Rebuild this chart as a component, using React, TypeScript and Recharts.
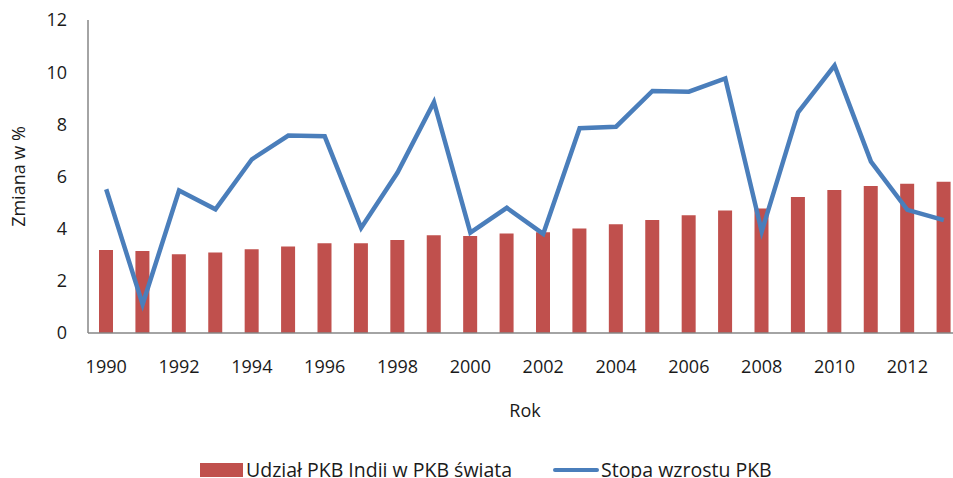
import { Bar, ComposedChart, Legend, Line, XAxis, YAxis } from "recharts";

const years = [
  "1990", "1991", "1992", "1993", "1994", "1995", "1996", "1997", "1998", "1999", "2000", "2001",
  "2002", "2003", "2004", "2005", "2006", "2007", "2008", "2009", "2010", "2011", "2012", "2013",
];

const shareOfWorld = [
  3.18, 3.14, 3.02, 3.09, 3.21, 3.32, 3.44, 3.44, 3.57, 3.75, 3.72, 3.81,
  3.86, 4.01, 4.17, 4.33, 4.51, 4.7, 4.77, 5.21, 5.48, 5.64, 5.72, 5.8,
];

const growthRate = [
  5.51, 1.1, 5.46, 4.74, 6.66, 7.57, 7.54, 4.03, 6.15, 8.85, 3.85, 4.8,
  3.8, 7.85, 7.91, 9.28, 9.25, 9.76, 3.89, 8.46, 10.25, 6.57, 4.72, 4.33,
];

const yTicks = [0, 2, 4, 6, 8, 10, 12];

const data = years.map((year, i) => ({
  year,
  share: shareOfWorld[i],
  growth: growthRate[i],
}));

const FONT = "'Open Sans', sans-serif";
const TEXT = "#1a1a1a";
const AXIS = "#868686";

function ChartLegend() {
  return (
    <div style={{ position: "relative", height: 32, fontFamily: FONT, fontSize: 19.5, color: TEXT }}>
      <div style={{ position: "absolute", left: 200, top: 5, width: 43, height: 14, background: "#C0504D" }} />
      <span style={{ position: "absolute", left: 246, top: 3, lineHeight: "17px", whiteSpace: "nowrap" }}>
        Udział PKB Indii w PKB świata
      </span>
      <div
        style={{ position: "absolute", left: 553, top: 10, width: 46, height: 4, borderRadius: 2, background: "#4A7EBB" }}
      />
      <span style={{ position: "absolute", left: 601, top: 3, lineHeight: "17px", whiteSpace: "nowrap" }}>
        Stopa wzrostu PKB
      </span>
    </div>
  );
}

export default function App() {
  return (
    <div style={{ position: "fixed", left: 0, top: 0, width: 953, height: 478, overflow: "hidden", background: "#fff" }}>
      <ComposedChart
        width={980}
        height={490}
        data={data}
        margin={{ top: 20, right: 18, bottom: 0, left: 0 }}
      >
        <XAxis
          dataKey="year"
          interval={1}
          height={125}
          tickLine={false}
          tickSize={0}
          tickMargin={27}
          axisLine={{ stroke: AXIS, strokeWidth: 1.5 }}
          tick={{ fill: TEXT, fontSize: 18, fontFamily: FONT }}
          label={{ value: "Rok", position: "insideBottom", offset: 41, fill: TEXT, fontSize: 18, fontFamily: FONT }}
        />
        <YAxis
          width={88}
          domain={[0, 12]}
          ticks={yTicks}
          interval={0}
          tickLine={false}
          tickSize={0}
          tickMargin={21}
          axisLine={{ stroke: AXIS, strokeWidth: 1.5 }}
          tick={{ fill: TEXT, fontSize: 18, fontFamily: FONT }}
          label={{
            value: "Zmiana w %",
            angle: -90,
            position: "insideLeft",
            offset: 19,
            fill: TEXT,
            fontSize: 18,
            fontFamily: FONT,
            style: { textAnchor: "middle" },
          }}
        />
        <Legend verticalAlign="bottom" height={32} content={() => <ChartLegend />} />
        <Bar dataKey="share" name="Udział PKB Indii w PKB świata" fill="#C0504D" barSize={14} isAnimationActive={false} />
        <Line
          dataKey="growth"
          name="Stopa wzrostu PKB"
          type="linear"
          stroke="#4A7EBB"
          strokeWidth={4.5}
          dot={false}
          activeDot={false}
          isAnimationActive={false}
        />
      </ComposedChart>
    </div>
  );
}
